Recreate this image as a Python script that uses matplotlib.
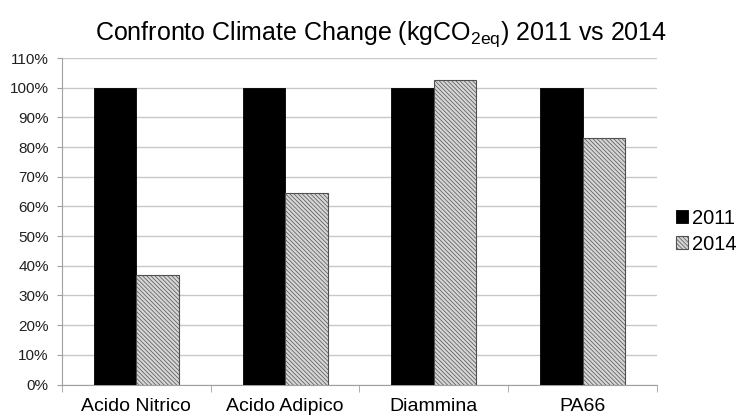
import numpy as np
import matplotlib
matplotlib.use("Agg")
import matplotlib.pyplot as plt
from matplotlib.ticker import PercentFormatter

plt.rcParams['font.family'] = ['Liberation Sans', 'DejaVu Sans']
plt.rcParams['mathtext.fontset'] = 'custom'
plt.rcParams['mathtext.rm'] = 'Liberation Sans'
plt.rcParams['hatch.linewidth'] = 0.5

# data
categories = ['Acido Nitrico', 'Acido Adipico', 'Diammina', 'PA66']
series_names = ['2011', '2014']
vals_2011 = [100, 100, 100, 100]
vals_2014 = [37, 64.5, 102.5, 83]
y_ticks = [0, 10, 20, 30, 40, 50, 60, 70, 80, 90, 100, 110]

fig = plt.figure(figsize=(7.45, 4.18), dpi=100)
ax = fig.add_axes([0.0832, 0.0801, 0.7987, 0.781])

x = np.arange(len(categories))
w = 1 / 3.5

ax.bar(x - w / 2, vals_2011, w, color='black', edgecolor='black', linewidth=0.6,
       label=series_names[0], zorder=3)
plt.rcParams['hatch.color'] = '#8a8a8a'
ax.bar(x + w / 2, vals_2014, w, color='#d6d6d6', edgecolor='#505050', linewidth=0.8,
       hatch='\\\\\\\\\\\\\\\\', label=series_names[1], zorder=3)

ax.set_xlim(-0.5, len(categories) - 0.5)
ax.set_ylim(0, 110)
ax.set_yticks(y_ticks)
ax.yaxis.set_major_formatter(PercentFormatter(decimals=0))
ax.grid(axis='y', color='#c8c8c8', linewidth=1.0, zorder=0)

ax.set_xticks(x)
ax.set_xticklabels(categories, fontsize=14)
ax.set_xticks(np.arange(-0.5, len(categories)), minor=True)
ax.tick_params(axis='x', which='major', length=0, pad=10)
ax.tick_params(axis='x', which='minor', length=5, color='#a0a0a0', direction='out')
ax.tick_params(axis='y', length=3.6, color='#a0a0a0', labelsize=11, pad=6, labelcolor='#202020')

for s in ['top', 'right']:
    ax.spines[s].set_visible(False)
for s in ['left', 'bottom']:
    ax.spines[s].set_color('#a0a0a0')

fig.text(0.511, 0.9055, 'Confronto Climate Change (kgCO$_{\\mathregular{2eq}}$) 2011 vs 2014',
         ha='center', va='baseline', fontsize=18)

fig.legend(loc='center left', bbox_to_anchor=(0.897, 0.447), frameon=False,
           fontsize=14.5, handlelength=0.6, handleheight=0.6, handletextpad=0.2,
           labelspacing=0.35, borderaxespad=0)

fig.savefig('out.png', dpi=100)
